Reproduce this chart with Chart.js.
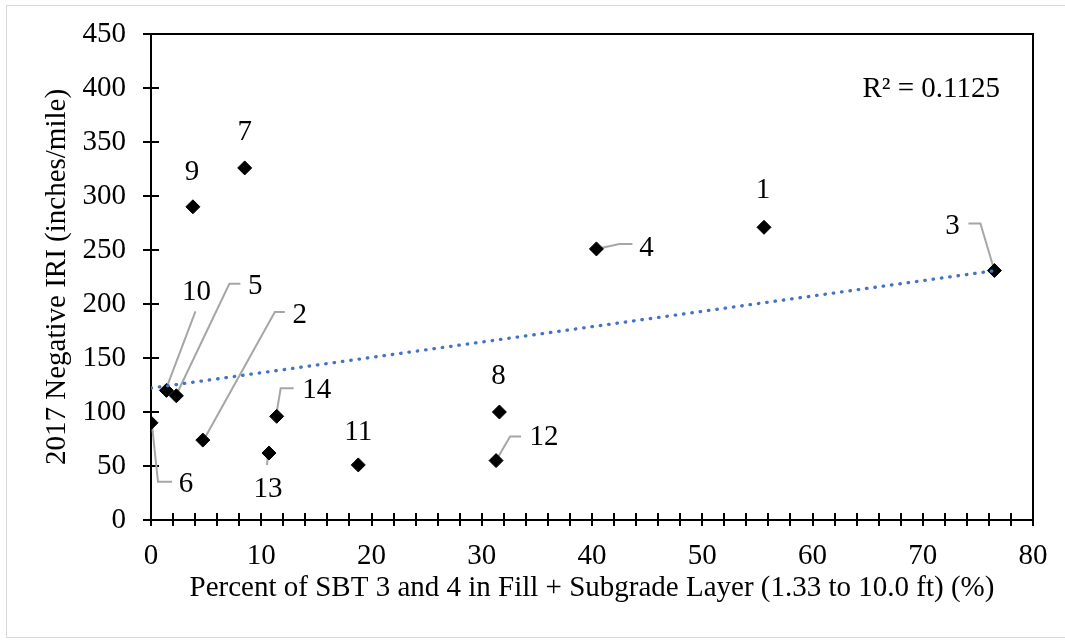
<!DOCTYPE html>
<html>
<head>
<meta charset="utf-8">
<script src="https://cdn.jsdelivr.net/npm/chart.js@4.4.1/dist/chart.umd.min.js"></script>
<style>
  html, body { margin: 0; padding: 0; background: #fff; }
  canvas { display: block; }
</style>
</head>
<body>
<canvas id="chart" width="1065" height="643"></canvas>
<script>
// site numbers shown next to each marker
const siteLabels = ['1', '2', '3', '4', '5', '6', '7', '8', '9', '10', '11', '12', '13', '14'];
// Percent of SBT 3 and 4 in Fill + Subgrade Layer (%)
const sbtPercent = [55.6, 4.7, 76.5, 40.4, 2.3, 0, 8.5, 31.6, 3.8, 1.4, 18.8, 31.3, 10.7, 11.4];
// 2017 Negative IRI (inches/mile)
const negativeIRI = [271, 74, 231, 251, 115, 90, 326, 100, 290, 120, 51, 55, 62, 96];
// axis ranges and steps
const xRange = [0, 80];
const yRange = [0, 450];
const xStep = 10;
const xMinorStep = 2;
const yStep = 50;
const rSquaredText = 'R\u00B2 = 0.1125';

// label position (pixel offset from marker) and optional leader line
const labelPlacement = [
  { dx: -1, dy: -37 },
  { dx: 97, dy: -125, leader: [[82, -128], [72, -128], [2, -2]] },
  { dx: -42, dy: -44, leader: [[-26, -47], [-14, -47], [0, 0]] },
  { dx: 50, dy: -1, leader: [[0, 0], [23, -5], [36, -5]] },
  { dx: 79, dy: -109, leader: [[64, -112], [53, -112], [1, -3]] },
  { dx: 35, dy: 62, leader: [[1, 2], [7, 59], [21, 59]] },
  { dx: 0, dy: -36 },
  { dx: -1, dy: -36 },
  { dx: -1, dy: -34 },
  { dx: 30, dy: -98, leader: [[29, -79], [1, -5]] },
  { dx: 0, dy: -33 },
  { dx: 48, dy: -23, leader: [[25, -24], [14, -24], [0, 0]] },
  { dx: -1, dy: 36, leader: [[-2, 12], [-1, 2]] },
  { dx: 40, dy: -26, leader: [[17, -28], [4, -28], [0, -4]] }
];

const FONT = '"Liberation Serif", "Times New Roman", serif';
const FONT_SIZE = 29;

// linear trendline (least squares)
function trend(xs, ys) {
  const n = xs.length;
  const mx = xs.reduce((a, b) => a + b, 0) / n;
  const my = ys.reduce((a, b) => a + b, 0) / n;
  let sxy = 0, sxx = 0;
  for (let i = 0; i < n; i++) {
    sxy += (xs[i] - mx) * (ys[i] - my);
    sxx += (xs[i] - mx) * (xs[i] - mx);
  }
  const b = sxy / sxx;
  const a = my - b * mx;
  const x0 = Math.min(...xs), x1 = Math.max(...xs);
  return [{ x: x0, y: a + b * x0 }, { x: x1, y: a + b * x1 }];
}

const points = sbtPercent.map((x, i) => ({ x: x, y: negativeIRI[i] }));

const decorations = {
  id: 'decorations',
  beforeDraw(chart) {
    const ctx = chart.ctx;
    ctx.save();
    ctx.strokeStyle = '#d9d9d9';
    ctx.lineWidth = 1;
    ctx.strokeRect(6.5, 5.5, chart.width, chart.height - 11);
    ctx.restore();
  },
  beforeDatasetsDraw(chart) {
    const ctx = chart.ctx;
    const { left, right, top, bottom } = chart.chartArea;
    const xs = chart.scales.x, ys = chart.scales.y;
    ctx.save();
    // plot frame
    ctx.strokeStyle = '#000';
    ctx.lineWidth = 2;
    ctx.strokeRect(left, top, right - left, bottom - top);
    // crossing tick marks
    ctx.beginPath();
    for (let v = yRange[0]; v <= yRange[1]; v += yStep) {
      const y = Math.round(ys.getPixelForValue(v));
      ctx.moveTo(left - 8, y);
      ctx.lineTo(left + 8, y);
    }
    for (let v = xRange[0]; v <= xRange[1]; v += xMinorStep) {
      const x = Math.round(xs.getPixelForValue(v));
      ctx.moveTo(x, bottom - 7);
      ctx.lineTo(x, bottom + 6);
    }
    ctx.stroke();
    // leader lines
    const meta = chart.getDatasetMeta(1);
    ctx.strokeStyle = '#a6a6a6';
    ctx.lineWidth = 2;
    meta.data.forEach((pt, i) => {
      const p = labelPlacement[i];
      if (!p.leader) return;
      ctx.beginPath();
      p.leader.forEach(([dx, dy], k) => {
        if (k === 0) ctx.moveTo(pt.x + dx, pt.y + dy);
        else ctx.lineTo(pt.x + dx, pt.y + dy);
      });
      ctx.stroke();
    });
    ctx.restore();
  },
  afterDatasetsDraw(chart) {
    const ctx = chart.ctx;
    const meta = chart.getDatasetMeta(1);
    ctx.save();
    ctx.fillStyle = '#000';
    ctx.font = FONT_SIZE + 'px ' + FONT;
    ctx.textAlign = 'center';
    ctx.textBaseline = 'middle';
    meta.data.forEach((pt, i) => {
      const p = labelPlacement[i];
      ctx.fillText(siteLabels[i], pt.x + p.dx, pt.y + p.dy);
    });
    ctx.textAlign = 'right';
    ctx.fillText(rSquaredText, chart.chartArea.right - 33, chart.chartArea.top + 55);
    ctx.restore();
  }
};

new Chart(document.getElementById('chart'), {
  type: 'scatter',
  data: {
    datasets: [
      {
        type: 'line',
        label: 'Linear trend',
        data: trend(sbtPercent, negativeIRI),
        borderColor: '#4472C4',
        borderWidth: 3.3,
        borderDash: [0.5, 7.9],
        borderCapStyle: 'round',
        pointRadius: 0,
        fill: false
      },
      {
        label: '2017 Negative IRI',
        data: points,
        pointStyle: 'rectRot',
        pointRadius: 7,
        pointHoverRadius: 7,
        backgroundColor: '#000',
        borderColor: '#000',
        borderWidth: 1
      }
    ]
  },
  options: {
    responsive: false,
    animation: false,
    layout: { padding: { left: 0, top: 34, right: 32, bottom: 0 } },
    plugins: {
      legend: { display: false },
      tooltip: { enabled: false }
    },
    scales: {
      x: {
        type: 'linear',
        min: xRange[0],
        max: xRange[1],
        grid: { display: false, drawTicks: false },
        border: { display: false },
        ticks: { stepSize: xStep, padding: 19, color: '#000', font: { family: FONT, size: FONT_SIZE } },
        title: {
          display: true,
          text: 'Percent of SBT 3 and 4 in Fill + Subgrade Layer (1.33 to 10.0 ft) (%)',
          color: '#000',
          font: { family: FONT, size: FONT_SIZE },
          padding: { top: 0, bottom: 37 }
        },
        afterFit(scale) {
          scale.height = 123;
          scale.paddingLeft = 0;
          scale.paddingRight = 0;
        }
      },
      y: {
        min: yRange[0],
        max: yRange[1],
        grid: { display: false, drawTicks: false },
        border: { display: false },
        ticks: { stepSize: yStep, padding: 25, color: '#000', font: { family: FONT, size: FONT_SIZE } },
        title: {
          display: true,
          text: '2017 Negative IRI (inches/mile)',
          color: '#000',
          font: { family: FONT, size: FONT_SIZE },
          padding: { top: 40, bottom: 0 }
        },
        afterFit(scale) {
          scale.width = 151;
          scale.paddingTop = 0;
          scale.paddingBottom = 0;
        }
      }
    }
  },
  plugins: [decorations]
});
</script>
</body>
</html>
